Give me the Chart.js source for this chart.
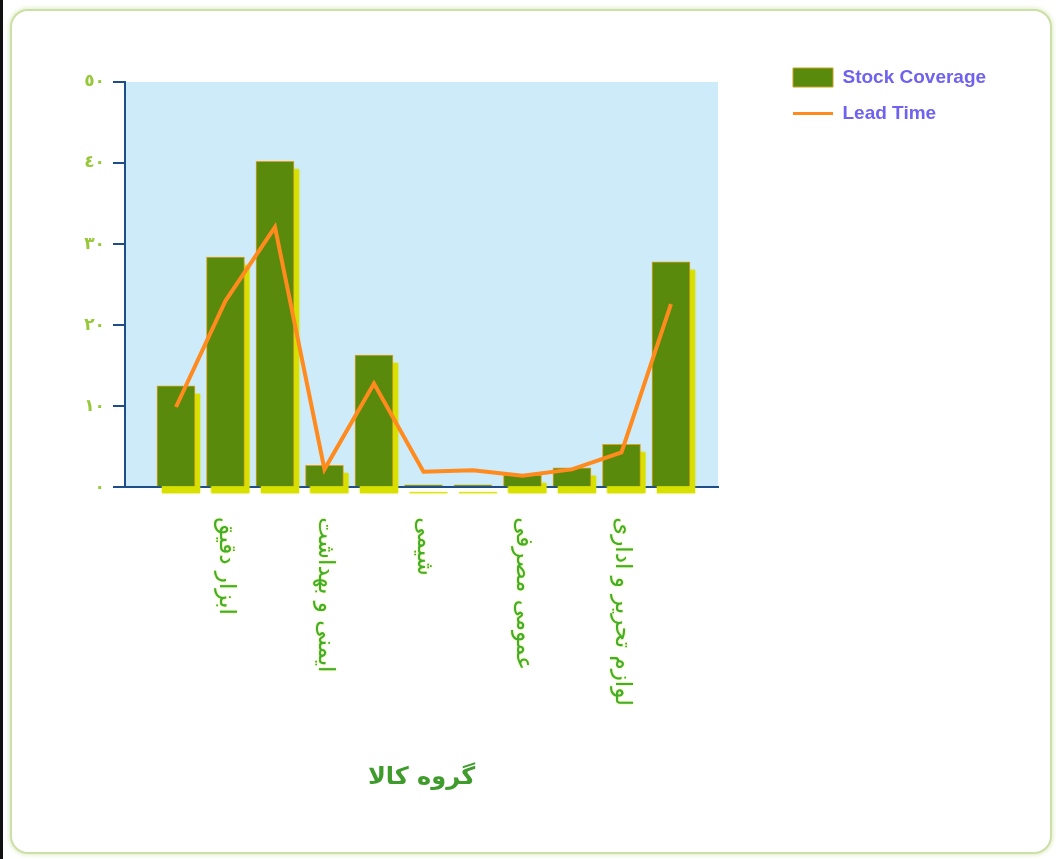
<!DOCTYPE html>
<html lang="fa">
<head>
<meta charset="utf-8">
<title>Stock Coverage / Lead Time</title>
<script src="https://cdn.jsdelivr.net/npm/chart.js@4.4.1/dist/chart.umd.min.js"></script>
<style>
  html, body { margin: 0; padding: 0; background: #ffffff; }
  body { width: 1056px; height: 859px; position: relative; overflow: hidden; }
  .edge { position: absolute; left: 0; top: 0; width: 3px; height: 859px; background: #111; }
  .frame {
    position: absolute; left: 10px; top: 9px; width: 1038px; height: 841px;
    border: 2px solid #cddfa8; border-radius: 18px;
    box-shadow: 0 0 4px 1px #e0ecc4;
    background: #ffffff;
  }
  #chart { position: absolute; left: 0; top: 0; }
</style>
</head>
<body>
<div class="edge"></div>
<div class="frame"></div>
<canvas id="chart" width="1056" height="859"></canvas>
<script>
// Product groups (only every other group name is printed under the axis)
const categories = ['', 'ابزار دقیق', '', 'ایمنی و بهداشت', '', 'شیمی', '', 'عمومی مصرفی', '', 'لوازم تحریر و اداری', ''];
const stockCoverage = [12.5, 28.4, 40.2, 2.7, 16.3, 0.3, 0.3, 1.5, 2.4, 5.3, 27.8];
const leadTime = [9.9, 23.0, 32.1, 2.2, 12.8, 1.9, 2.1, 1.4, 2.2, 4.3, 22.6];
const yTickLabels = ['٠', '١٠', '٢٠', '٣٠', '٤٠', '٥٠'];
const seriesNames = ['Stock Coverage', 'Lead Time'];
const axisTitle = 'گروه کالا';

const GREEN = '#5a8a0c';
const ORANGE = '#ff8a1e';
const AXIS = '#1d4e89';
const SHADOW = '#d8e000';

// light blue plot background
const plotBackground = {
  id: 'plotBackground',
  beforeDraw(chart) {
    const { ctx, chartArea: a } = chart;
    ctx.save();
    ctx.fillStyle = '#cdebf8';
    ctx.fillRect(a.left, a.top, a.right - a.left, a.bottom - a.top);
    ctx.restore();
  }
};

// yellow drop shadow behind each bar, taken from the bar elements' geometry
const barShadow = {
  id: 'barShadow',
  beforeDatasetDraw(chart, args) {
    if (args.meta.type !== 'bar') return;
    const ctx = chart.ctx;
    ctx.save();
    ctx.fillStyle = SHADOW;
    ctx.shadowColor = SHADOW;
    ctx.shadowBlur = 2;
    args.meta.data.forEach((el) => {
      const { x, y, base, width } = el.getProps(['x', 'y', 'base', 'width'], true);
      const h = Math.max(base - y, 2);
      ctx.fillRect(x - width / 2 + 5, base - h + 8, width, h - 1);
    });
    ctx.restore();
  }
};

// group names, written top-to-bottom under their bars
const groupLabels = {
  id: 'groupLabels',
  afterDraw(chart) {
    const { ctx, scales } = chart;
    const xs = scales.x;
    const y0 = chart.chartArea.bottom + 30;
    ctx.save();
    ctx.font = '23px "DejaVu Sans", sans-serif';
    ctx.fillStyle = '#3fae2e';
    ctx.shadowColor = 'rgba(225, 230, 60, 0.9)';
    ctx.shadowBlur = 2;
    ctx.textAlign = 'left';
    ctx.textBaseline = 'middle';
    categories.forEach((name, i) => {
      if (!name) return;
      const x = xs.getPixelForValue(i);
      ctx.save();
      ctx.translate(x, y0);
      ctx.rotate(Math.PI / 2);
      ctx.fillText(name, 0, 0);
      ctx.restore();
    });
    ctx.restore();
  }
};

const chart = new Chart(document.getElementById('chart'), {
  data: {
    datasets: [
      {
        type: 'bar',
        label: seriesNames[0],
        data: stockCoverage.map((v, i) => ({ x: i, y: v })),
        backgroundColor: GREEN,
        borderColor: '#e0a020',
        borderWidth: 1,
        barThickness: 38,
        order: 1
      },
      {
        type: 'line',
        label: seriesNames[1],
        data: leadTime.map((v, i) => ({ x: i, y: v })),
        borderColor: ORANGE,
        backgroundColor: ORANGE,
        borderWidth: 4,
        pointRadius: 0,
        tension: 0,
        order: 0
      }
    ]
  },
  options: {
    responsive: false,
    animation: false,
    layout: { padding: { top: 51, left: 40, right: 60, bottom: 67 } },
    plugins: {
      tooltip: { enabled: false },
      legend: {
        position: 'right',
        align: 'start',
        maxWidth: 220,
        labels: {
          usePointStyle: true,
          pointStyleWidth: 40,
          boxHeight: 19,
          padding: 17,
          color: '#6f62ee',
          font: { family: '"Liberation Sans", Arial, sans-serif', size: 19, weight: 'bold' },
          generateLabels(ch) {
            return ch.data.datasets.map((ds, i) => ({
              text: ds.label,
              fillStyle: ds.type === 'bar' ? GREEN : ORANGE,
              strokeStyle: ds.type === 'bar' ? '#c8a020' : ORANGE,
              lineWidth: ds.type === 'bar' ? 1 : 3,
              pointStyle: ds.type === 'bar' ? 'rect' : 'line',
              fontColor: '#6f62ee',
              hidden: false,
              datasetIndex: i
            }));
          }
        }
      }
    },
    scales: {
      x: {
        type: 'linear',
        position: 'bottom',
        offset: false,
        min: -1.03,
        max: 10.95,
        grid: { display: false },
        border: { display: true, color: AXIS, width: 2 },
        ticks: { display: false },
        title: {
          display: true,
          text: axisTitle,
          color: '#3f9b2c',
          font: { family: '"DejaVu Sans", sans-serif', size: 24, weight: 'bold' },
          padding: { top: 268, bottom: 0 }
        }
      },
      topGap: {
        type: 'linear',
        axis: 'x',
        position: 'top',
        grid: { display: false },
        border: { display: false },
        ticks: { display: false },
        afterFit(s) { s.height = 31; }
      },
      y: {
        type: 'linear',
        position: 'left',
        min: 0,
        max: 50,
        ticks: {
          stepSize: 10,
          padding: 8,
          color: '#96c83a',
          font: { family: '"DejaVu Sans", sans-serif', size: 17, weight: 'bold' },
          callback: (v) => yTickLabels[Math.round(v / 10)]
        },
        grid: { display: true, drawOnChartArea: false, drawTicks: true, tickLength: 12, color: AXIS, lineWidth: 2 },
        border: { display: true, color: AXIS, width: 2 },
        afterFit(s) { s.width = 85; }
      },
      rightGap: {
        type: 'linear',
        axis: 'y',
        position: 'right',
        grid: { display: false },
        border: { display: false },
        ticks: { display: false },
        afterFit(s) { s.width = 58; }
      }
    }
  },
  plugins: [plotBackground, barShadow, groupLabels]
});
</script>
</body>
</html>
